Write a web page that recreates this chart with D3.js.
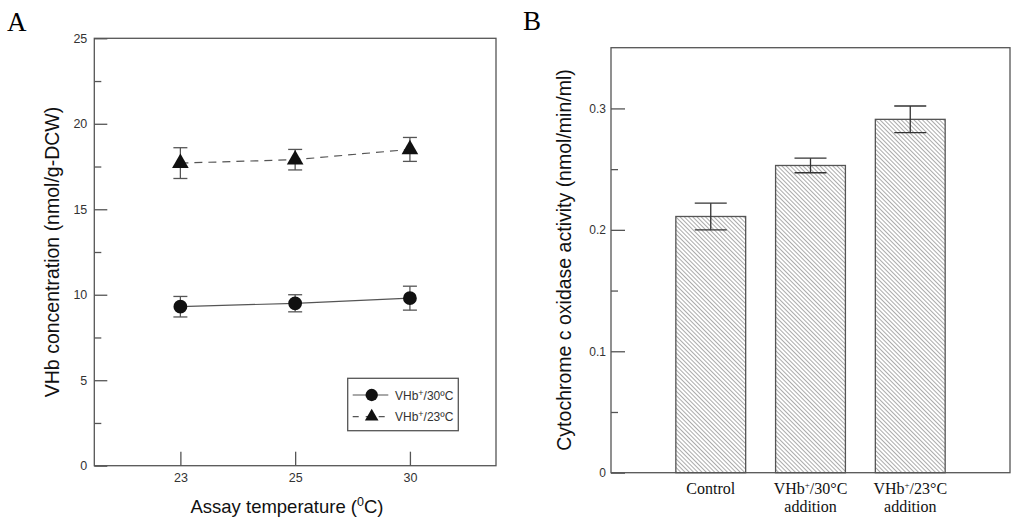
<!DOCTYPE html>
<html>
<head>
<meta charset="utf-8">
<script src="https://cdn.jsdelivr.net/npm/d3@7"></script>
<style>
  body { margin: 0; background: #fff; }
  text { font-family: "Liberation Sans", Arial, sans-serif; }
  .serif { font-family: "Liberation Serif", "Times New Roman", serif; }
</style>
</head>
<body>
<svg width="1024" height="527"></svg>
<script>
// panel A data
var temps = ["23", "25", "30"];
var vhb30 = [9.3, 9.5, 9.8];
var vhb30Err = [0.6, 0.5, 0.7];
var vhb23 = [17.7, 17.9, 18.5];
var vhb23Err = [0.9, 0.6, 0.7];
var seriesNames = ["VHb+/30\u00BAC", "VHb+/23\u00BAC"];

// panel B data
var groups = [["Control"], ["VHb+/30\u00B0C", "addition"], ["VHb+/23\u00B0C", "addition"]];
var activity = [0.211, 0.253, 0.291];
var activityErr = [0.011, 0.006, 0.011];

var svg = d3.select("svg");
var boxColor = "#555", markColor = "#111", tickText = "#333";

// ---------- panel A ----------
var xA = d3.scaleLinear().domain([-0.75, 2.75]).range([94.3, 496]);
var yA = d3.scaleLinear().domain([0, 25]).range([465.7, 38.3]);
var gA = svg.append("g");

gA.append("rect")
    .attr("x", xA.range()[0]).attr("y", yA.range()[1])
    .attr("width", xA.range()[1] - xA.range()[0])
    .attr("height", yA.range()[0] - yA.range()[1])
    .attr("fill", "none").attr("stroke", boxColor).attr("stroke-width", 1.3);

// y axis, ticks inward
var yAxA = gA.append("g").attr("transform", "translate(" + xA.range()[0] + ",0)")
    .call(d3.axisLeft(yA).tickValues([0, 5, 10, 15, 20, 25]).tickSize(-13).tickPadding(7));
yAxA.select(".domain").remove();
yAxA.selectAll("line").attr("stroke", boxColor).attr("stroke-width", 1.3);
yAxA.selectAll("text").attr("font-size", 12.5).attr("fill", tickText)
    .attr("font-family", "Liberation Sans, Arial, sans-serif");
var yMinA = gA.append("g").attr("transform", "translate(" + xA.range()[0] + ",0)")
    .call(d3.axisLeft(yA).tickValues([2.5, 7.5, 12.5, 17.5, 22.5]).tickSize(-7).tickFormat(""));
yMinA.select(".domain").remove();
yMinA.selectAll("line").attr("stroke", boxColor).attr("stroke-width", 1.3);

// x axis, ticks inward
var xAxA = gA.append("g").attr("transform", "translate(0," + yA.range()[0] + ")")
    .call(d3.axisBottom(xA).tickValues([0, 1, 2]).tickSize(-14).tickPadding(7)
      .tickFormat(function(d) { return temps[d]; }));
xAxA.select(".domain").remove();
xAxA.selectAll("line").attr("stroke", boxColor).attr("stroke-width", 1.3);
xAxA.selectAll("text").attr("font-size", 12.5).attr("fill", tickText)
    .attr("font-family", "Liberation Sans, Arial, sans-serif");

function drawSeries(vals, errs, dashed, shape) {
  var pts = vals.map(function(v, i) { return {i: i, v: v, e: errs[i]}; });
  var line = d3.line().x(function(d) { return xA(d.i); }).y(function(d) { return yA(d.v); });
  gA.append("path").datum(pts).attr("d", line).attr("fill", "none")
      .attr("stroke", boxColor).attr("stroke-width", 1.2)
      .attr("stroke-dasharray", dashed ? "8,6" : null);
  var eb = gA.append("g").selectAll("g").data(pts).enter().append("g")
      .attr("stroke", boxColor).attr("stroke-width", 1.3);
  eb.append("line").attr("x1", function(d) { return xA(d.i); }).attr("x2", function(d) { return xA(d.i); })
      .attr("y1", function(d) { return yA(d.v + d.e); }).attr("y2", function(d) { return yA(d.v - d.e); });
  eb.append("line").attr("x1", function(d) { return xA(d.i) - 7; }).attr("x2", function(d) { return xA(d.i) + 7; })
      .attr("y1", function(d) { return yA(d.v + d.e); }).attr("y2", function(d) { return yA(d.v + d.e); });
  eb.append("line").attr("x1", function(d) { return xA(d.i) - 7; }).attr("x2", function(d) { return xA(d.i) + 7; })
      .attr("y1", function(d) { return yA(d.v - d.e); }).attr("y2", function(d) { return yA(d.v - d.e); });
  gA.append("g").selectAll("path").data(pts).enter().append("path")
      .attr("d", d3.symbol().type(shape).size(shape === d3.symbolCircle ? 150 : 120))
      .attr("transform", function(d) { return "translate(" + xA(d.i) + "," + yA(d.v) + ")"; })
      .attr("fill", markColor);
}
drawSeries(vhb30, vhb30Err, false, d3.symbolCircle);
drawSeries(vhb23, vhb23Err, true, d3.symbolTriangle);

// legend
var leg = gA.append("g");
leg.append("rect").attr("x", 347.7).attr("y", 378.3).attr("width", 110.6).attr("height", 52.4)
    .attr("fill", "#fff").attr("stroke", boxColor).attr("stroke-width", 1.3);
[[false, d3.symbolCircle, 395], [true, d3.symbolTriangle, 416.7]].forEach(function(s, i) {
  leg.append("line").attr("x1", 352.7).attr("x2", 388.3).attr("y1", s[2]).attr("y2", s[2])
      .attr("stroke", boxColor).attr("stroke-width", 1.2).attr("stroke-dasharray", s[0] ? "6,7" : null);
  leg.append("path").attr("d", d3.symbol().type(s[1]).size(s[1] === d3.symbolCircle ? 120 : 80))
      .attr("transform", "translate(371.7," + s[2] + ")").attr("fill", markColor);
  var parts = seriesNames[i].split("+");
  var t = leg.append("text").attr("x", 395).attr("y", s[2] + 4.5).attr("font-size", 12).attr("fill", tickText);
  t.append("tspan").text(parts[0]);
  t.append("tspan").attr("dy", -4).attr("font-size", 9).text("+");
  t.append("tspan").attr("dy", 4).text(parts[1]);
});

// axis titles A
gA.append("text").attr("transform", "translate(59,252) rotate(-90)")
    .attr("text-anchor", "middle").attr("font-size", 19.5).attr("fill", "#111")
    .text("VHb concentration (nmol/g-DCW)");
var xlA = gA.append("text").attr("x", 287).attr("y", 513).attr("text-anchor", "middle")
    .attr("font-size", 18.5).attr("fill", "#111");
xlA.append("tspan").text("Assay temperature (");
xlA.append("tspan").attr("dy", -7).attr("font-size", 12.5).text("0");
xlA.append("tspan").attr("dy", 7).text("C)");
svg.append("text").attr("class", "serif").attr("x", 7).attr("y", 31)
    .attr("font-size", 27).attr("fill", "#000").text("A");

// ---------- panel B ----------
var xB = d3.scaleLinear().domain([-1, 3]).range([611, 1010]);
var yB = d3.scaleLinear().domain([0, 0.35]).range([472.7, 47.7]);
var gB = svg.append("g");

var defs = svg.append("defs");
var pat = defs.append("pattern").attr("id", "hatch").attr("patternUnits", "userSpaceOnUse")
    .attr("width", 3).attr("height", 3).attr("patternTransform", "rotate(-45)");
pat.append("line").attr("x1", 0).attr("y1", 0).attr("x2", 0).attr("y2", 3)
    .attr("stroke", "#444").attr("stroke-width", 0.9);

gB.append("rect")
    .attr("x", xB.range()[0]).attr("y", yB.range()[1])
    .attr("width", xB.range()[1] - xB.range()[0])
    .attr("height", yB.range()[0] - yB.range()[1])
    .attr("fill", "none").attr("stroke", boxColor).attr("stroke-width", 1.3);

var yAxB = gB.append("g").attr("transform", "translate(" + xB.range()[0] + ",0)")
    .call(d3.axisLeft(yB).tickValues([0, 0.1, 0.2, 0.3]).tickSize(-14).tickPadding(5)
      .tickFormat(function(d) { return d === 0 ? "0" : d3.format(".1f")(d); }));
yAxB.select(".domain").remove();
yAxB.selectAll("line").attr("stroke", boxColor).attr("stroke-width", 1.3);
yAxB.selectAll("text").attr("font-size", 12).attr("fill", tickText)
    .attr("font-family", "Liberation Sans, Arial, sans-serif");
var yMinB = gB.append("g").attr("transform", "translate(" + xB.range()[0] + ",0)")
    .call(d3.axisLeft(yB).tickValues([0.05, 0.15, 0.25]).tickSize(-7).tickFormat(""));
yMinB.select(".domain").remove();
yMinB.selectAll("line").attr("stroke", boxColor).attr("stroke-width", 1.3);

var bw = 0.7;
gB.append("g").selectAll("rect").data(activity).enter().append("rect")
    .attr("x", function(d, i) { return xB(i - bw / 2); })
    .attr("width", xB(bw) - xB(0))
    .attr("y", function(d) { return yB(d); })
    .attr("height", function(d) { return yB(0) - yB(d); })
    .attr("fill", "url(#hatch)").attr("stroke", "#555").attr("stroke-width", 1.3);

var ebB = gB.append("g").selectAll("g").data(activity).enter().append("g")
    .attr("stroke", "#333").attr("stroke-width", 1.3);
ebB.append("line").attr("x1", function(d, i) { return xB(i); }).attr("x2", function(d, i) { return xB(i); })
    .attr("y1", function(d, i) { return yB(d + activityErr[i]); }).attr("y2", function(d, i) { return yB(d - activityErr[i]); });
[1, -1].forEach(function(sgn) {
  ebB.append("line").attr("x1", function(d, i) { return xB(i) - 16; }).attr("x2", function(d, i) { return xB(i) + 16; })
      .attr("y1", function(d, i) { return yB(d + sgn * activityErr[i]); })
      .attr("y2", function(d, i) { return yB(d + sgn * activityErr[i]); });
});

// category labels
groups.forEach(function(lines, i) {
  lines.forEach(function(s, j) {
    var t = gB.append("text").attr("class", "serif").attr("x", xB(i)).attr("y", 494 + j * 18)
        .attr("text-anchor", "middle").attr("font-size", 16).attr("fill", "#111");
    var parts = s.split("+");
    t.append("tspan").text(parts[0]);
    if (parts.length > 1) {
      t.append("tspan").attr("dy", -6).attr("font-size", 9).text("+");
      t.append("tspan").attr("dy", 6).text(parts[1]);
    }
  });
});

gB.append("text").attr("transform", "translate(571,260) rotate(-90)")
    .attr("text-anchor", "middle").attr("font-size", 19.5).attr("fill", "#111")
    .text("Cytochrome c oxidase activity (nmol/min/ml)");
svg.append("text").attr("class", "serif").attr("x", 523).attr("y", 30)
    .attr("font-size", 27).attr("fill", "#000").text("B");
</script>
</body>
</html>
